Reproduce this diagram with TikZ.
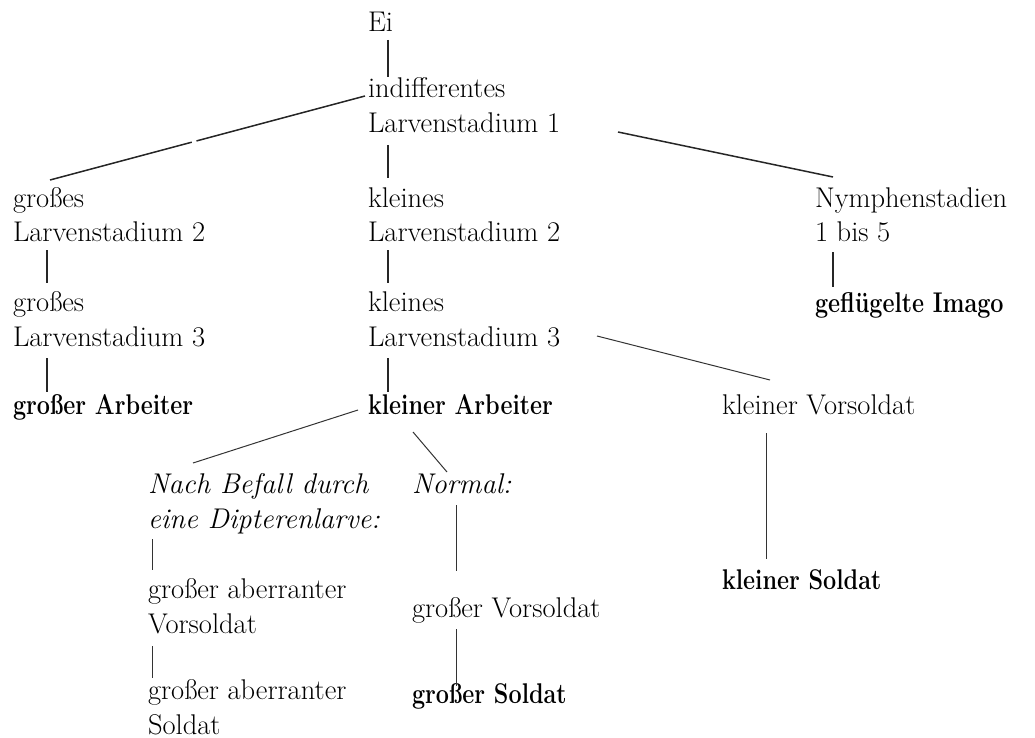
\documentclass[tikz,border=0pt]{standalone}
\usepackage{fontspec}
\usepackage{graphicx}
\usetikzlibrary{calc}
\newcommand\fsz{\fontsize{28.5}{35}\selectfont}
\newcommand\twol[2]{\vtop{\hbox{#1}\hbox{#2}}}
\newcommand\bld[1]{\scalebox{0.82}[1]{\bfseries #1}}
\tikzset{
  lbl/.style={inner sep=0pt, outer sep=0pt, anchor=base west, font=\fsz},
  conn/.style={line width=1.5pt, black!85},
  thinconn/.style={line width=1pt, black!80}
}
\begin{document}
\begin{tikzpicture}[x=1pt,y=-1pt]
\useasboundingbox (0,0) rectangle (1035,738);
% nodes
\node[lbl] (ei)  at (368,32)  {Ei};
\node[lbl] (ind) at (368,98)  {\twol{indifferentes}{Larvenstadium 1}};
\node[lbl] (gl2) at (13,207)  {\twol{großes}{Larvenstadium 2}};
\node[lbl] (kl2) at (368,207) {\twol{kleines}{Larvenstadium 2}};
\node[lbl] (ny)  at (815,207) {\twol{Nymphenstadien}{1 bis 5}};
\node[lbl] (gl3) at (13,311)  {\twol{großes}{Larvenstadium 3}};
\node[lbl] (kl3) at (368,311) {\twol{kleines}{Larvenstadium 3}};
\node[lbl] (im)  at (815,312) {\bld{geflügelte Imago}};
\node[lbl] (ga)  at (13,414)  {\bld{großer Arbeiter}};
\node[lbl] (ka)  at (368,414) {\bld{kleiner Arbeiter}};
\node[lbl] (kv)  at (722,414) {kleiner Vorsoldat};
\node[lbl] (nb)  at (148,493) {\itshape\twol{Nach Befall durch}{eine Dipterenlarve:}};
\node[lbl] (no)  at (412,493) {\itshape Normal:};
\node[lbl] (gav) at (148,598) {\twol{großer aberranter}{Vorsoldat}};
\node[lbl] (gv)  at (412,617) {großer Vorsoldat};
\node[lbl] (ks)  at (722,589) {\bld{kleiner Soldat}};
\node[lbl] (gas) at (148,699) {\twol{großer aberranter}{Soldat}};
\node[lbl] (gs)  at (412,703) {\bld{großer Soldat}};
% connectors
\coordinate (a1) at ($(ind.base west)+(-3,-2)$);
\coordinate (a2) at ($(gl2.base west)+(37,-27)$);
\draw[conn] (a1) -- ($(a1)!0.535!(a2)$);
\draw[conn] ($(a1)!0.55!(a2)$) -- (a2);
\draw[conn] ($(ei.base west)+(20,8)$) -- ($(ind.base west)+(20,-21)$);
\draw[conn] ($(ind.base west)+(20,47)$) -- ($(kl2.base west)+(20,-29)$);
\draw[conn] ($(ind.base west)+(250,34)$) -- ($(ny.base west)+(18,-30)$);
\draw[conn] ($(gl2.base west)+(34,43)$) -- ($(gl3.base west)+(34,-28)$);
\draw[conn] ($(kl2.base west)+(20,43)$) -- ($(kl3.base west)+(20,-28)$);
\draw[conn] ($(ny.base west)+(18,45)$) -- ($(im.base west)+(18,-25)$);
\draw[conn] ($(gl3.base west)+(34,47)$) -- ($(ga.base west)+(34,-22)$);
\draw[conn] ($(kl3.base west)+(20,47)$) -- ($(ka.base west)+(20,-22)$);
\draw[thinconn] ($(kl3.base west)+(229,25)$) -- ($(kv.base west)+(48,-34)$);
\draw[thinconn] ($(ka.base west)+(-10,-4)$) -- ($(nb.base west)+(45,-30)$);
\draw[thinconn] ($(ka.base west)+(45,18)$) -- ($(no.base west)+(35,-21)$);
\draw[thinconn] ($(kv.base west)+(44,19)$) -- ($(ks.base west)+(44,-30)$);
\draw[thinconn] ($(nb.base west)+(4,46)$) -- ($(gav.base west)+(4,-28)$);
\draw[thinconn] ($(no.base west)+(44,12)$) -- ($(gv.base west)+(44,-46)$);
\draw[thinconn] ($(gav.base west)+(4,48)$) -- ($(gas.base west)+(4,-21)$);
\draw[thinconn] ($(gv.base west)+(44,12)$) -- ($(gs.base west)+(44,-17)$);
\end{tikzpicture}
\end{document}
